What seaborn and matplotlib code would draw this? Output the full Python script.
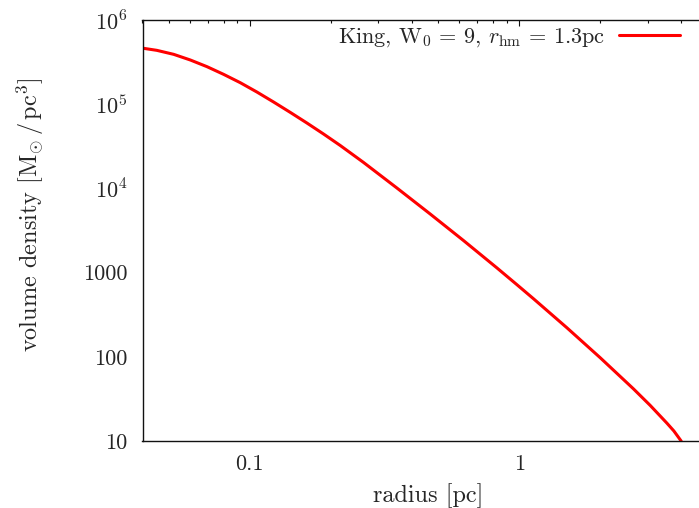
import matplotlib
matplotlib.use("Agg")
import matplotlib.pyplot as plt
import seaborn as sns
import pandas as pd
from matplotlib.ticker import FixedLocator, FixedFormatter, LogLocator, NullLocator, NullFormatter

# King profile (W0 = 9, r_hm = 1.3 pc): radius [pc] and volume density [Msun/pc^3]
radius_pc = [0.0404, 0.0452, 0.0522, 0.0602, 0.0694, 0.0800, 0.0922, 0.1063,
             0.1226, 0.1413, 0.1630, 0.1879, 0.2167, 0.2645, 0.3516, 0.4675,
             0.6217, 0.8263, 0.9803, 1.130, 1.503, 1.998, 2.656, 3.063,
             3.531, 3.750, 3.992]
density = [460800, 436200, 391100, 334900, 279100, 226200, 180200, 139600,
           106200, 80080, 59800, 44270, 32350, 20330, 10120, 4966,
           2401, 1139, 720.0, 489.5, 221.5, 97.6, 41.6, 26.5,
           16.35, 13.17, 10.0]

x_ticks = [0.1, 1]
x_ticklabels = ["0.1", "1"]
y_ticks = [10, 100, 1000, 1e4, 1e5, 1e6]
y_ticklabels = ["10", "100", "1000", r"$10^{4}$", r"$10^{5}$", r"$10^{6}$"]
legend_label = r"King, W$_0$ = 9, $r_{\rm hm}$ = 1.3pc"

df = pd.DataFrame({"radius": radius_pc, "density": density})

sns.set_style("white")
plt.rcParams.update({
    "font.family": ["cmr10", "DejaVu Serif"],
    "mathtext.fontset": "cm",
    "axes.formatter.use_mathtext": True,
    "font.size": 16,
    "text.color": "#262626",
    "axes.labelcolor": "#262626",
})

fig = plt.figure(figsize=(6.99, 5.08), dpi=100)
ax = fig.add_axes([142.5 / 699, 67 / 508, 565 / 699, 421 / 508])
ax.set_xscale("log")
ax.set_yscale("log")

sns.lineplot(data=df, x="radius", y="density", color="#ff0000", linewidth=2.2,
             label=legend_label, estimator=None, sort=False, ax=ax)

ax.set_xlim(0.04, 5)
ax.set_ylim(10, 1e6)

ax.xaxis.set_major_locator(FixedLocator(x_ticks))
ax.xaxis.set_major_formatter(FixedFormatter(x_ticklabels))
ax.xaxis.set_minor_locator(LogLocator(base=10, subs=range(2, 10)))
ax.xaxis.set_minor_formatter(NullFormatter())
ax.yaxis.set_major_locator(FixedLocator(y_ticks))
ax.yaxis.set_major_formatter(FixedFormatter(y_ticklabels))
ax.yaxis.set_minor_locator(NullLocator())

for side in ["left", "right", "top", "bottom"]:
    ax.spines[side].set_visible(True)
    ax.spines[side].set_color("#111111")
    ax.spines[side].set_linewidth(1.0)

ax.tick_params(which="both", direction="in", top=True, right=True,
               color="#111111", labelcolor="#262626", labelsize=16)
ax.tick_params(which="major", length=4.1, width=0.8)
ax.tick_params(which="minor", length=2.4, width=0.8)
ax.tick_params(axis="y", which="major", pad=10.8)
ax.tick_params(axis="x", which="major", pad=9.5)

ax.set_xlabel("radius [pc]", fontsize=17.5)
ax.set_ylabel(r"volume density $[\mathrm{M}_{\odot}\,/\,\mathrm{pc}^{3}]$", fontsize=17.5)
ax.xaxis.set_label_coords(0.505, -0.1)
ax.yaxis.set_label_coords(-0.171, 0.537)

ax.legend(loc="center right", bbox_to_anchor=(680 / 699, 1 - 37.7 / 508),
          bbox_transform=fig.transFigure, frameon=False, markerfirst=False,
          handlelength=2.75, handletextpad=0.63, borderpad=0, borderaxespad=0,
          fontsize=16)

fig.savefig("out.png", dpi=100)
